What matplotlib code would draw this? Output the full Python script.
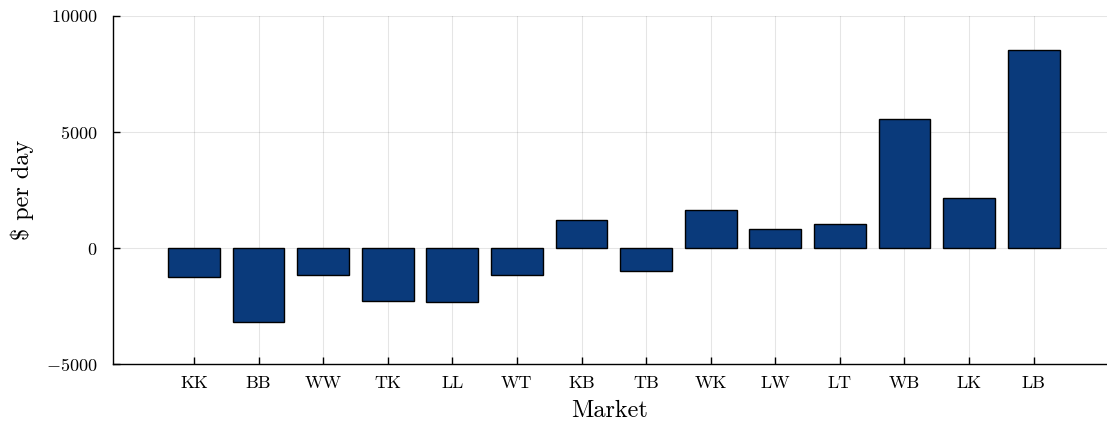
import numpy as np
import matplotlib
matplotlib.use("Agg")
import matplotlib.pyplot as plt

markets = ["KK", "BB", "WW", "TK", "LL", "WT", "KB", "TB", "WK", "LW", "LT", "WB", "LK", "LB"]
profit = [-1250, -3180, -1140, -2290, -2330, -1150, 1190, -990, 1650, 820, 1035, 5560, 2155, 8535]
yticks = [-5000, 0, 5000, 10000]

plt.rcParams['font.family'] = 'cmr10'
plt.rcParams['mathtext.fontset'] = 'cm'
plt.rcParams['axes.formatter.use_mathtext'] = True

fig = plt.figure(figsize=(11.07, 4.21), dpi=100)
ax = fig.add_axes([0.102, 0.135, 0.898, 0.827])

x = np.arange(1, len(markets) + 1)
ax.bar(x, profit, width=0.8, color='#0a3a7b', edgecolor='black', linewidth=1.0, zorder=3)

ax.set_xlim(-0.254, 15.135)
ax.set_ylim(-5000, 10000)
ax.set_xticks(x)
ax.set_xticklabels(markets)
ax.set_yticks(yticks)

ax.grid(True, color='black', alpha=0.1, linewidth=0.8, zorder=0)
for s in ['top', 'right']:
    ax.spines[s].set_visible(False)
for s in ['left', 'bottom']:
    ax.spines[s].set_linewidth(1.0)
ax.tick_params(direction='in', length=5, width=1, labelsize=13)
ax.tick_params(axis='x', pad=8)
ax.tick_params(axis='y', pad=11)

ax.set_xlabel('Market', fontsize=17.5, labelpad=7)
ax.set_ylabel(r'\$ per day', fontsize=17.5, labelpad=8.5)

fig.savefig('out.png', dpi=100)
